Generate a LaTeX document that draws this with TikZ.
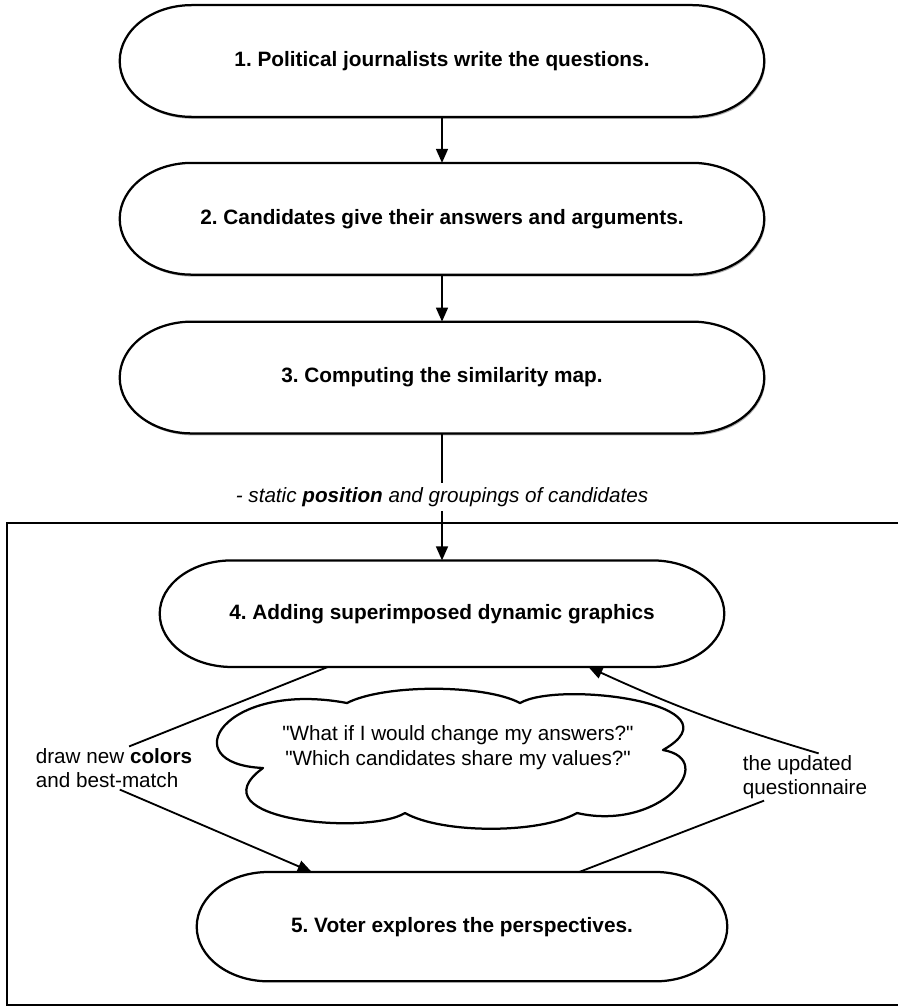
\documentclass[tikz,border=0pt]{standalone}
\usepackage{fontspec}
\setmainfont{Liberation Sans}
\newfontfamily\quotefont{Liberation Sans}[Ligatures=TeXOff]
\usetikzlibrary{arrows.meta, positioning, calc, shadows, backgrounds}

\newcommand\pillrad{1.8cm}
\frenchspacing

\begin{document}
\begin{tikzpicture}[
    node distance=1.15cm,
    >={Triangle[length=10pt, width=8.5pt]},
    stage/.style={minimum width=16.1cm, minimum height=2.78cm, inner sep=0pt,
                  font=\fontsize{14.8}{18}\selectfont\bfseries, align=center},
    pill/.style={line width=1.6pt, fill=white},
    shade/.style={drop shadow={shadow xshift=0.8pt, shadow yshift=-1.4pt, opacity=0.6}},
    note/.style={font=\fontsize{14.7}{17.5}\selectfont, align=left, inner sep=1pt},
    arr/.style={->, line width=1.3pt},
    link/.style={line width=1.3pt},
    puffs/.style={line width=1.6pt, line join=round},
]
\useasboundingbox (0,0) rectangle (22.45,-25.2);

% Steps 1-3
\node[stage] (q1) at (11.05,-1.525) {1. Political journalists write the questions.};
\node[stage, below=of q1] (q2) {2. Candidates give their answers and arguments.};
\node[stage, below=1.175cm of q2] (q3) {3. Computing the similarity map.};

% Interactive part
\node[stage, minimum width=14.1cm, minimum height=2.65cm, below=3.175cm of q3] (q4) {4. Adding superimposed dynamic graphics};
\node[stage, minimum width=13.25cm, minimum height=2.72cm, below=5.125cm of q4, xshift=0.5cm] (q5) {5. Voter explores the perspectives.};

% Cloud with the voter's questions
\draw[puffs] (6.575,-19.2)
    .. controls (4.3,-19.1) and (5.6,-17.0) .. (8.675,-17.575)
    .. controls (9.6,-17.1) and (12.1,-17.1) .. (13.0,-17.575)
    .. controls (14.0,-17.0) and (18.6,-17.6) .. (16.575,-18.75)
    .. controls (18.0,-19.0) and (16.5,-20.8) .. (14.425,-20.325)
    .. controls (13.5,-20.85) and (11.05,-20.85) .. (10.125,-20.325)
    .. controls (9.2,-20.9) and (4.8,-20.5) .. cycle;
\node[note, align=center] (ask) at (11.45,-18.69)
      {\quotefont"What if I would change my answers?"\\\quotefont"Which candidates share my values?"};

% Side labels
\node[note] (colors) at (2.85,-19.2) {draw new \textbf{colors}\\and best-match};
\node[note] (quest) at (20.125,-19.425) {the updated\\questionnaire};

% Pill outlines behind the texts
\begin{scope}[on background layer]
\foreach \s/\extra in {q1/shade, q2/shade, q3/shade, q4/pill, q5/pill}
  \draw[pill, \extra] let \p1=(\s.north west), \p2=(\s.south east), \p3=($(\s.north)-(\s.center)$) in
    (\x1+\pillrad,\y1) -- (\x2-\pillrad,\y1)
    arc[start angle=90, end angle=-90, x radius=\pillrad, y radius=\y3]
    -- (\x1+\pillrad,\y2)
    arc[start angle=270, end angle=90, x radius=\pillrad, y radius=\y3] -- cycle;
\end{scope}

% Frame round the interactive part
\draw[link] (22.45,-13.075) -- (0.175,-13.075) -- (0.175,-25.125) -- (22.45,-25.125);

% Arrows
\draw[arr] (q1) -- (q2);
\draw[arr] (q2) -- (q3);
\draw[arr] (q3) -- node[fill=white, inner sep=3pt, font=\fontsize{14.7}{17}\selectfont\itshape] (static)
    {- static \textbf{position} and groupings of candidates} (q4);

% Loop between map and voter
\draw[link] (q4.205) -- (colors.55);
\draw[arr] (colors.-75) -- (q5.160);
\draw[link] (q5.25) -- (quest.-150);
\draw[arr] (quest.60) to[bend left=4] (q4.-20);

\end{tikzpicture}
\end{document}
